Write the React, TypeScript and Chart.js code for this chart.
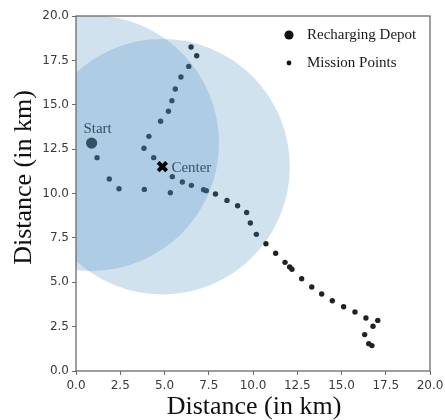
import React, { useEffect, useRef } from 'react';
import { Chart, registerables } from 'chart.js';

Chart.register(...registerables);

// ---- data ----
const missionX = [
  6.50, 6.82, 6.37, 5.93, 5.61, 5.42, 5.22, 4.78, 4.12, 3.84, 4.39,
  1.19, 1.88, 2.43, 3.86, 5.33,
  5.44, 6.01, 6.52, 7.21, 7.36, 7.88, 8.53, 9.13, 9.64, 9.85, 10.19, 10.73, 11.28,
  11.81, 12.07, 12.20, 12.75, 13.32, 13.88, 14.48, 15.12, 15.76, 16.38, 17.05, 16.78,
  16.31, 16.54, 16.72,
];
const missionY = [
  18.25, 17.76, 17.16, 16.56, 15.89, 15.23, 14.63, 14.07, 13.22, 12.55, 12.02,
  12.02, 10.82, 10.27, 10.23, 10.04,
  10.95, 10.65, 10.46, 10.21, 10.16, 9.97, 9.61, 9.31, 8.93, 8.34, 7.70, 7.17, 6.63,
  6.12, 5.86, 5.73, 5.20, 4.73, 4.34, 3.96, 3.62, 3.32, 2.99, 2.85, 2.52,
  2.05, 1.54, 1.43,
];
const depotX = [0.88];
const depotY = [12.84];
const centerX = [4.88];
const centerY = [11.51];
const circleX = [0.88, 4.88];
const circleY = [12.84, 11.51];
const circleR = 7.2;
const axisMin = 0;
const axisMax = 20;
const tickStep = 2.5;
const axisTitle = 'Distance (in km)';
const seriesLabels = ['Mission Points', 'Recharging Depot', 'Center'];
const annotationLabels = ['Start', 'Center'];

const SERIF = '"Liberation Serif", "Times New Roman", serif';

const overlayPlugin = {
  id: 'overlay',
  beforeDatasetDraw(chart: any, args: any) {
    if (args.index !== 2) return;
    const { ctx, chartArea, scales } = chart;
    const xs = scales.x;
    const ys = scales.y;
    ctx.save();
    // annotation texts
    ctx.fillStyle = '#1e1e1e';
    ctx.font = `15px ${SERIF}`;
    ctx.textBaseline = 'alphabetic';
    ctx.textAlign = 'center';
    const sx = xs.getPixelForValue(depotX[0]);
    const sy = ys.getPixelForValue(depotY[0]);
    ctx.fillText(annotationLabels[0], sx + 6, sy - 10);
    const cx0 = xs.getPixelForValue(centerX[0]);
    const cy0 = ys.getPixelForValue(centerY[0]);
    ctx.textAlign = 'left';
    ctx.fillText(annotationLabels[1], cx0 + 9, cy0 + 5);
    // translucent circles
    ctx.beginPath();
    ctx.rect(chartArea.left, chartArea.top, chartArea.right - chartArea.left, chartArea.bottom - chartArea.top);
    ctx.clip();
    ctx.fillStyle = 'rgba(70,140,190,0.25)';
    for (let i = 0; i < circleX.length; i++) {
      const px = xs.getPixelForValue(circleX[i]);
      const py = ys.getPixelForValue(circleY[i]);
      const rx = Math.abs(xs.getPixelForValue(circleX[i] + circleR) - px);
      const ry = Math.abs(ys.getPixelForValue(circleY[i] + circleR) - py);
      ctx.beginPath();
      ctx.ellipse(px, py, rx, ry, 0, 0, Math.PI * 2);
      ctx.fill();
    }
    ctx.restore();
  },
  afterDraw(chart: any) {
    const { ctx, chartArea } = chart;
    ctx.save();
    // frame
    ctx.strokeStyle = '#6a6a6a';
    ctx.lineWidth = 1.3;
    ctx.strokeRect(chartArea.left, chartArea.top, chartArea.right - chartArea.left, chartArea.bottom - chartArea.top);
    // legend
    const lx = chartArea.right - 141;
    const rows = [
      { label: seriesLabels[1], r: 4.6, y: chartArea.top + 19 },
      { label: seriesLabels[0], r: 2.4, y: chartArea.top + 47 },
    ];
    ctx.font = `15px ${SERIF}`;
    ctx.textBaseline = 'middle';
    ctx.textAlign = 'left';
    for (const row of rows) {
      ctx.fillStyle = '#111';
      ctx.beginPath();
      ctx.arc(lx, row.y, row.r, 0, Math.PI * 2);
      ctx.fill();
      ctx.fillStyle = '#1a1a1a';
      ctx.fillText(row.label, lx + 18, row.y);
    }
    // axis titles
    ctx.font = `26px ${SERIF}`;
    ctx.fillStyle = '#111';
    ctx.textAlign = 'center';
    ctx.textBaseline = 'alphabetic';
    ctx.fillText(axisTitle, (chartArea.left + chartArea.right) / 2 + 1, 414);
    ctx.translate(31, (chartArea.top + chartArea.bottom) / 2 - 16);
    ctx.rotate(-Math.PI / 2);
    ctx.fillText(axisTitle, 0, 0);
    ctx.restore();
  },
};

export default function App() {
  const ref = useRef<HTMLCanvasElement | null>(null);
  useEffect(() => {
    if (!ref.current) return;
    const tickFont = { family: '"DejaVu Sans", sans-serif', size: 12 };
    const chart = new Chart(ref.current, {
      type: 'scatter',
      data: {
        datasets: [
          {
            label: seriesLabels[0],
            data: missionX.map((x, i) => ({ x, y: missionY[i] })),
            backgroundColor: '#222',
            borderWidth: 0,
            pointRadius: 2.7,
            order: 3,
          },
          {
            label: seriesLabels[1],
            data: depotX.map((x, i) => ({ x, y: depotY[i] })),
            backgroundColor: '#222',
            borderWidth: 0,
            pointRadius: 5.6,
            order: 2,
          },
          {
            label: seriesLabels[2],
            data: centerX.map((x, i) => ({ x, y: centerY[i] })),
            pointStyle: 'crossRot',
            borderColor: '#000',
            backgroundColor: '#000',
            borderWidth: 4,
            pointRadius: 6,
            order: 1,
          },
          {
            label: seriesLabels[2],
            data: centerX.map((x, i) => ({ x, y: centerY[i] })),
            pointStyle: 'rect',
            borderColor: '#000',
            backgroundColor: '#000',
            borderWidth: 0,
            pointRadius: 3.5,
            order: 0,
          },
        ],
      },
      options: {
        responsive: false,
        animation: false,
        events: [],
        layout: { padding: { top: 16, right: 15, left: 0, bottom: 0 } },
        plugins: { legend: { display: false }, tooltip: { enabled: false } },
        scales: {
          x: {
            type: 'linear',
            min: axisMin,
            max: axisMax,
            afterFit: (s: any) => { s.height = 49; s.paddingLeft = 0; s.paddingRight = 0; },
            ticks: {
              stepSize: tickStep,
              font: tickFont,
              color: '#3a3a3a',
              padding: 4,
              maxRotation: 0,
              callback: (v: any) => Number(v).toFixed(1),
            },
            grid: { drawOnChartArea: false, drawTicks: true, tickLength: 4, color: '#6a6a6a' },
            border: { display: false },
          },
          y: {
            type: 'linear',
            min: axisMin,
            max: axisMax,
            afterFit: (s: any) => { s.width = 76; s.paddingTop = 0; s.paddingBottom = 0; },
            ticks: {
              stepSize: tickStep,
              font: tickFont,
              color: '#3a3a3a',
              padding: 3,
              callback: (v: any) => Number(v).toFixed(1),
            },
            grid: { drawOnChartArea: false, drawTicks: true, tickLength: 4, color: '#6a6a6a' },
            border: { display: false },
          },
        },
      },
      plugins: [overlayPlugin],
    } as any);
    return () => chart.destroy();
  }, []);
  return (
    <div style={{ position: 'absolute', left: 0, top: 0, width: 445, height: 420, background: '#fff' }}>
      <canvas ref={ref} width={445} height={420} style={{ display: 'block' }} />
    </div>
  );
}
